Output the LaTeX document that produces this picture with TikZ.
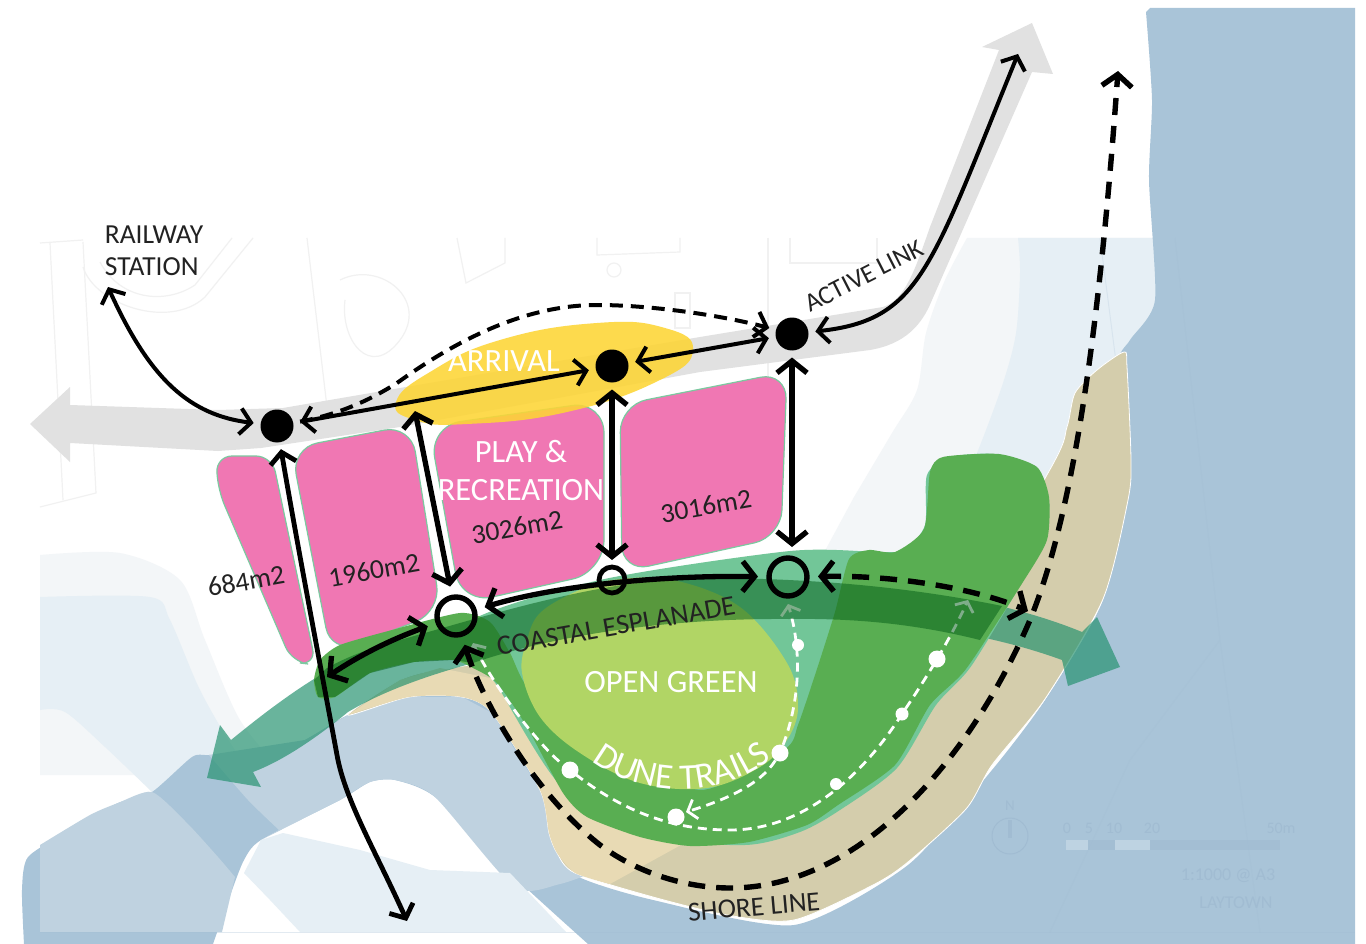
\documentclass[tikz,border=0pt]{standalone}
\usepackage{fontspec}
\setmainfont{Carlito}
\usetikzlibrary{arrows.meta,decorations.text}
\definecolor{sea}{HTML}{A9C4D8}
\definecolor{seal}{HTML}{BFD2E0}
\definecolor{palew}{HTML}{E6EFF5}
\definecolor{palel}{HTML}{F3F6F8}
\definecolor{beige}{HTML}{D4CDAC}
\definecolor{beigel}{HTML}{E8DAB4}
\definecolor{gteal}{HTML}{72C698}
\definecolor{ggreen}{HTML}{59AE52}
\definecolor{glime}{HTML}{B1D565}
\definecolor{pinkb}{HTML}{F077B3}
\definecolor{pinke}{HTML}{7CC9A0}
\definecolor{yell}{HTML}{FDD535}
\definecolor{greyb}{HTML}{E1E1E1}
\definecolor{faint}{HTML}{F1F1F1}
\definecolor{fsea}{HTML}{A1BCD2}
\definecolor{ink}{HTML}{222222}
\definecolor{esp}{RGB}{35,145,110}
\definecolor{bandg}{RGB}{0,92,22}
\tikzset{
  barb/.tip={Straight Barb[length=12pt,width=30pt]},
  barbs/.tip={Straight Barb[length=11pt,width=26pt]},
  thickarrow/.style={line width=5.3pt,barb-barb},
  thinarrow/.style={line width=4pt,barbs-barbs},
  dashline/.style={line width=5.4pt,dash pattern=on 17pt off 11pt},
  thindash/.style={line width=4pt,dash pattern=on 13pt off 8pt},
  trail/.style={white,line width=2.8pt,dash pattern=on 9pt off 6pt},
  chev/.tip={Straight Barb[length=8pt,width=20pt]},
  bluedot/.style={circle,fill=black,inner sep=0pt,minimum size=33pt,outer sep=7pt},
  ringa/.style={circle,draw=black,line width=5.4pt,inner sep=0pt,minimum size=38pt,outer sep=11pt},
  ringb/.style={circle,draw=black,line width=4.8pt,inner sep=0pt,minimum size=26pt,outer sep=7pt},
  wdot/.style={circle,fill=white,inner sep=0pt},
  lab/.style={font=\fontsize{27.5}{32}\selectfont,text=ink,inner sep=0pt,align=left},
  wlab/.style={font=\fontsize{32.5}{36}\selectfont,text=white,inner sep=0pt,align=center},
  pinkblock/.style={fill=pinkb,draw=pinke,line width=1.2pt,rounded corners=27pt,line join=round},
  mapline/.style={draw=faint,line width=1.2pt},
  sealine/.style={draw=fsea,line width=1pt},
  seatxt/.style={text=fsea,inner sep=0pt,font=\fontsize{22}{26}\selectfont},
}
\begin{document}
\begin{tikzpicture}[x=1pt,y=-1pt,line cap=butt]
\useasboundingbox (0,0) rectangle (1366,944);
\fill[white] (0,0) rectangle (1366,944);
% pale base map
\fill[palel] plot[smooth,tension=.5] coordinates {(40,555)(120,553)(180,580)(205,640)(240,720)(285,775)} -- (40,775) -- cycle;
\fill[palew] plot[smooth,tension=.5] coordinates {(40,597)(150,597)(170,620)(200,690)(235,750)(270,790)} -- (200,810) -- plot[smooth,tension=.5] coordinates {(152,792)(105,747)(65,712)(40,710)} -- cycle;
\fill[palel] (967,238) -- (1160,238) -- (1160,520) -- (1000,560) -- (820,560) -- plot[smooth,tension=.5] coordinates {(854,497)(892,433)(917,390)(926,333)(945,280)(967,238)} -- cycle;
\fill[palew] plot[smooth,tension=.5] coordinates {(1018,238)(1020,273)(1016,333)(1003,383)(977,453)(955,500)} -- (1100,500) -- (1160,400) -- (1160,238) -- cycle;
% faint map lines
\draw[mapline] (50,243) -- (63,500) (83,242) -- (96,493) -- (40,507);
\draw[mapline] (40,243) -- (83,240);
\draw[mapline] (83,267) .. controls (95,305) and (170,330) .. (205,297) -- (253,238);
\draw[mapline] (100,262) .. controls (120,300) and (165,305) .. (195,285) -- (232,238);
\draw[mapline] (307,238) -- (327,407);
\draw[mapline] (457,238) -- (466,283) -- (505,263) -- (505,238);
\draw[mapline] (597,238) -- (597,255) -- (680,252) -- (680,238);
\draw[mapline] (614,270) circle (7);
\draw[mapline] (675,293) rectangle (690,328);
\draw[mapline] (768,238) -- (768,383) (790,238) -- (790,263) -- (877,263) -- (877,238);
\draw[mapline] (340,280) .. controls (380,260) and (430,300) .. (400,340) .. controls (370,380) and (340,340) .. (345,300);
% blue water
\fill[sea] plot[smooth,tension=.4] coordinates {(1146,12)(1152,100)(1149,180)(1155,300)(1130,340)(1118,365)(1130,470)(1103,600)(1045,700)(992,770)(908,865)(794,925)(653,900)(575,875)(549,835)(540,790)(492,713)(462,697)(409,697)(348,715)(305,740)(262,752)(209,755)(192,757)(152,792)(118,803)(70,830)(28,857)(22,890)(24,944)} -- (213,944) -- plot[smooth,tension=.4] coordinates {(213,944)(231,893)(244,860)(261,840)(340,800)(370,782)(395,780)(435,797)(510,873)(588,944)} -- (1355,944) -- (1355,8) -- (1150,8) -- cycle;
% lighter parts of the water
\fill[seal] plot[smooth,tension=.4] coordinates {(40,845)(90,815)(118,803)(152,792)(187,823)(218,857)(235,877)} -- (222,932) -- (40,932) -- cycle;
\fill[seal] plot[smooth,tension=.4] coordinates {(209,755)(248,800)(279,830)} -- (261,840) -- plot[smooth,tension=.4] coordinates {(340,800)(370,782)(395,780)(435,797)(514,887)(560,884)(600,870)} -- (540,790) -- (492,713) -- (462,697) -- (409,697) -- (348,715) -- (305,740) -- cycle;
\fill[palew] (283,833) -- (360,850) -- (430,870) -- (510,873) -- (566,932) -- (300,932) -- (270,900) -- (244,873) -- (261,840) -- cycle;
\draw[draw=fsea,line width=1pt,opacity=.3] (40,932) -- (1355,932);
\draw[sealine,opacity=.2] (1175,238) -- (1220,640) -- (1260,932) (1220,640) -- (1130,760) -- (1050,932) (1100,238) -- (1130,470);
% compass, scale and stamp in the water
\node[seatxt,font=\fontsize{15}{18}\selectfont] (cn) at (1010,806) {N};
\node[draw=fsea,line width=1pt,circle,minimum size=36pt,inner sep=0pt] (cc) at (1010,836) {};
\fill[fsea] (1008,820) rectangle (1012,838);
\fill[palew,opacity=.35] (1066,840) rectangle (1088,850);
\fill[fsea,opacity=.7] (1088,840) rectangle (1115,850);
\fill[palew,opacity=.35] (1115,840) rectangle (1150,850);
\fill[fsea,opacity=.7] (1150,840) rectangle (1280,850);
\node[seatxt,font=\fontsize{16}{18}\selectfont] (s0) at (1067,828) {0};
\node[seatxt,font=\fontsize{16}{18}\selectfont] (s1) at (1089,828) {5};
\node[seatxt,font=\fontsize{16}{18}\selectfont] (s2) at (1114,828) {10};
\node[seatxt,font=\fontsize{16}{18}\selectfont] (s3) at (1152,828) {20};
\node[seatxt,font=\fontsize{16}{18}\selectfont] (s4) at (1281,828) {50m};
\node[seatxt,font=\fontsize{18}{20}\selectfont] (s5) at (1228,876) {1:1000 @ A3};
\node[seatxt,font=\fontsize{18}{20}\selectfont] (s6) at (1236,903) {LAYTOWN};
% grey active link
\fill[greyb] (1032,23) -- (982,47) -- (999,50) -- (930,227) .. controls (915,270) and (905,300) .. (883,307) -- (700,337) -- (400,388) -- (283,408) -- (218,410) -- (70,405) -- (70,387) -- (30,424) -- (70,462) -- (70,443) -- (218,451) -- (261,448) -- (400,427) -- (700,372) -- (870,350) .. controls (905,344) and (922,325) .. (932,300) -- (1032,72) -- (1053,74) -- cycle;
% shore (beige)
\fill[beige,draw=white,line width=.8pt] plot[smooth cycle,tension=.45] coordinates {(1124,352)(1097,370)(1075,393)(1067,427)(1048,473)(900,720)(700,830)(600,780)(500,672)(440,670)(400,680)(348,715)(409,697)(462,697)(492,713)(540,790)(549,833)(557,853)(575,873)(653,897)(727,915)(794,920)(873,885)(908,862)(966,809)(992,765)(1045,699)(1103,599)(1128,500)(1131,460)(1127,367)};
\fill[beigel] plot[smooth,tension=.4] coordinates {(348,715)(409,697)(462,697)(492,713)(540,790)(549,833)(557,853)(575,873)(610,884)} -- (690,840) -- (600,780) -- (500,680) -- (440,668) -- (400,680) -- cycle;
% coastal esplanade (teal arrow)
\fill[esp,opacity=.68] (207,778) -- (220,725) -- (231,740) .. controls (280,700) and (340,655) .. (400,640) .. controls (500,610) and (600,580) .. (700,578) .. controls (840,578) and (980,590) .. (1082,632) -- (1097,617) -- (1120,667) -- (1068,686) -- (1062,660) .. controls (980,630) and (880,618) .. (789,619) .. controls (650,618) and (540,640) .. (473,663) .. controls (430,675) and (385,690) .. (348,712) .. controls (320,735) and (285,760) .. (253,772) -- (261,787) -- cycle;
% pink blocks
\draw[pinkblock,rounded corners=16pt] (216,456) -- (272,456) -- (316,665) -- (292,662) -- (218,490) -- cycle;
\draw[pinkblock] (291,448) -- (411,425) -- (441,612) -- (331,654) -- cycle;
\draw[pinkblock,rounded corners=32pt] (429,426) -- (604,401) -- (604,572) -- (461,604) -- cycle;
\draw[pinkblock] (620,405) -- (787,372) -- (781,537) -- (622,572) -- cycle;
% arrival (yellow)
\fill[yell,opacity=.88] plot[smooth cycle,tension=.8] coordinates {(396,402)(430,372)(500,340)(597,323)(665,328)(693,350)(660,380)(567,412)(467,424)(415,420)};
% dune greens
\fill[gteal] plot[smooth cycle,tension=.45] coordinates {(465,625)(600,580)(790,551)(880,552)(905,550)(925,525)(927,475)(950,457)(1000,455)(1040,480)(1049,510)(1028,570)(972,665)(936,705)(897,768)(840,810)(800,832)(745,845)(640,836)(560,785)(500,690)};
\fill[ggreen] plot[smooth cycle,tension=.4] coordinates {(943,457)(999,454)(1037,467)(1049,497)(1047,540)(1023,582)(966,669)(930,705)(895,765)(838,805)(807,825)(749,842)(690,846)(640,837)(587,817)(563,793)(527,727)(497,683)(473,668)(453,660)(414,662)(370,673)(335,697)(318,697)(314,680)(320,660)(340,645)(392,630)(460,613)(490,622)(510,653)(530,690)(600,740)(700,790)(785,749)(798,725)(816,672)(835,612)(849,559)(869,550)(895,552)(924,529)(930,472)};
\fill[glime] plot[smooth cycle,tension=.6] coordinates {(613,580)(673,580)(740,607)(787,663)(798,707)(787,740)(760,767)(707,788)(640,783)(580,753)(540,717)(522,673)(527,640)(540,613)(575,592)};
% dune trails
\coordinate (t1a) at (473,643);
\coordinate (t1b) at (968,600);
\coordinate (t2b) at (788,604);
\coordinate (t3b) at (686,812);
\draw[trail,chev-chev] (t1a) .. controls (490,680) and (540,750) .. (570,770) .. controls (620,810) and (670,830) .. (730,830) .. controls (800,830) and (860,780) .. (902,714) .. controls (925,680) and (950,640) .. (t1b);
\node[wdot,minimum size=17pt] (d3) at (780,753) {};
\draw[trail,-chev] (d3) .. controls (800,700) and (802,650) .. (t2b);
\draw[trail,-chev] (d3) .. controls (760,785) and (725,800) .. (t3b);
\node[wdot,minimum size=17pt] (d1) at (570,770) {};
\node[wdot,minimum size=17pt] (d2) at (676,817) {};
\node[wdot,minimum size=12pt] (d4) at (798,645) {};
\node[wdot,minimum size=17pt] (d5) at (937,659) {};
\node[wdot,minimum size=13pt] (d6) at (902,714) {};
\node[wdot,minimum size=12pt] (d7) at (836,784) {};
% dark esplanade band over the greens
\fill[bandg,opacity=.5] (314,680) -- (327,668) .. controls (350,655) and (380,645) .. (400,640) .. controls (500,612) and (600,580) .. (700,578) .. controls (800,578) and (900,585) .. (1002,606) -- (980,640) .. controls (920,625) and (860,618) .. (789,619) .. controls (650,618) and (540,640) .. (473,663) -- (453,660) -- (414,662) -- (370,673) -- (335,697) -- (318,697) -- cycle;
% labels
\node[lab] (station) at (154,251) {RAILWAY\\STATION};
\node[lab,rotate=27,font=\fontsize{26}{30}\selectfont] (active) at (864,276) {ACTIVE LINK};
\node[wlab] (arrival) at (504,361) {ARRIVAL};
\node[wlab,font=\fontsize{32.5}{38}\selectfont] (play) at (521,471) {PLAY \&\\RECREATION};
\node[lab,rotate=10] (a1) at (246,581) {684m2};
\node[lab,rotate=10] (a2) at (374,570) {1960m2};
\node[lab,rotate=10] (a3) at (517,527) {3026m2};
\node[lab,rotate=10] (a4) at (706,506) {3016m2};
\node[lab,rotate=10,font=\fontsize{28}{32}\selectfont] (espl) at (616,626) {COASTAL ESPLANADE};
\node[wlab] (open) at (671,682) {OPEN GREEN};
\node[lab,rotate=5] (shore) at (754,907) {SHORE LINE};
\path[decorate,decoration={text along path,text align=center,text color=white,text={|\fontsize{36}{40}\selectfont|DUNE TRAILS}}] (588,757) .. controls (625,792) and (715,808) .. (776,755);
% movement nodes
\node[bluedot] (n1) at (277,426) {};
\node[bluedot] (n2) at (612,366) {};
\node[bluedot] (n3) at (792,334) {};
\node[ringa] (o1) at (456,616) {};
\node[ringb] (o2) at (612,580) {};
\node[ringa] (o3) at (788,577) {};
\coordinate (st) at (108,287);
\coordinate (up) at (1018,54);
\coordinate (south) at (407,921);
\coordinate (west) at (327,677);
\coordinate (arr) at (415,411);
\coordinate (north) at (1118,71);
\coordinate (east) at (1028,611);
% connectors
\draw[thinarrow] (st) .. controls (150,380) and (190,415) .. (n1);
\draw[thinarrow] (n1) -- (n2);
\draw[thinarrow] (n2) -- (n3);
\draw[thinarrow] (n3) .. controls (920,320) and (930,270) .. (up);
\draw[thindash,-barbs] (n1) .. controls (340,414) and (370,400) .. (397,383) .. controls (450,345) and (520,305) .. (597,305) .. controls (650,305) and (720,315) .. (n3);
\draw[thickarrow] (n3) -- (n3 |- o3.north);
\draw[thickarrow] (n2) -- (o2);
\draw[thickarrow] (arr) -- (o1);
\draw[thinarrow,line width=4.8pt] (n1) .. controls (300,560) and (325,690) .. (337,755) .. controls (345,800) and (375,850) .. (south);
\draw[thickarrow] (o1) .. controls (390,640) and (360,655) .. (west);
\draw[thickarrow] (o1) .. controls (540,590) and (640,575) .. (o3);
\draw[dashline,barb-barb] (o3) .. controls (900,575) and (980,590) .. (east);
\draw[dashline,barb-barb] (o1) .. controls (480,695) and (530,790) .. (600,845) .. controls (640,875) and (690,888) .. (730,888) .. controls (860,888) and (970,760) .. (1030,620) .. controls (1075,510) and (1100,320) .. (north);
\end{tikzpicture}
\end{document}
